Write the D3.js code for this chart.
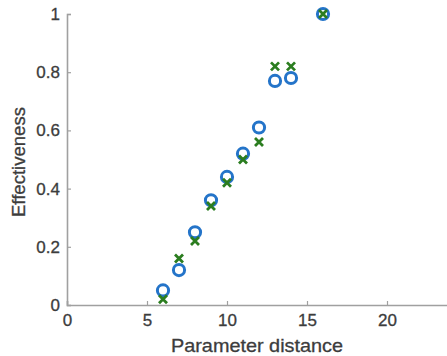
<!DOCTYPE html>
<html><head><meta charset="utf-8">
<script src="https://cdn.jsdelivr.net/npm/d3@7"></script>
<style>html,body{margin:0;padding:0;background:#fff;}svg{display:block;}</style>
</head><body>
<svg id="c" width="447" height="356"></svg>
<script>
const xs = [6, 7, 8, 9, 10, 11, 12, 13, 14, 16];
const circleVals = [0.05, 0.12, 0.25, 0.36, 0.44, 0.52, 0.61, 0.77, 0.78, 1.0];
const crossVals  = [0.02, 0.16, 0.22, 0.34, 0.42, 0.50, 0.56, 0.82, 0.82, 1.0];
const xTicks = [0, 5, 10, 15, 20];
const yTicks = [0, 0.2, 0.4, 0.6, 0.8, 1];

const svg = d3.select("#c");
const x = d3.scaleLinear().domain([0, 24]).range([67, 451]);
const y = d3.scaleLinear().domain([0, 1]).range([305, 14]);
const font = "'Liberation Sans', Arial, sans-serif";
const axisCol = "#a0a0a0", textCol = "#3c3c3c";

const gx = svg.append("g").attr("transform", "translate(0,305)")
  .call(d3.axisBottom(x).tickValues(xTicks).tickSize(-4).tickPadding(9).tickFormat(d3.format("d")));
const gy = svg.append("g").attr("transform", "translate(67,0)")
  .call(d3.axisLeft(y).tickValues(yTicks).tickSize(-4).tickPadding(7).tickFormat(d => d === 0 || d === 1 ? String(d) : d3.format(".1f")(d)));
[gx, gy].forEach(g => {
  g.select(".domain").attr("stroke", axisCol).attr("stroke-width", 1.6);
  g.selectAll(".tick line").attr("stroke", axisCol).attr("stroke-width", 1.2);
  g.selectAll("text").attr("fill", textCol).attr("font-family", font).attr("font-size", 17)
    .attr("stroke", textCol).attr("stroke-width", 0.3);
});

svg.append("text").attr("x", 257).attr("y", 352).attr("text-anchor", "middle")
  .attr("font-family", font).attr("font-size", 18.5).attr("fill", textCol)
  .attr("stroke", textCol).attr("stroke-width", 0.3)
  .attr("textLength", 172).attr("lengthAdjust", "spacingAndGlyphs").text("Parameter distance");
svg.append("text").attr("transform", "translate(25,162) rotate(-90)").attr("text-anchor", "middle")
  .attr("font-family", font).attr("font-size", 18.5).attr("fill", textCol)
  .attr("stroke", textCol).attr("stroke-width", 0.3)
  .attr("textLength", 110).attr("lengthAdjust", "spacingAndGlyphs").text("Effectiveness");

const crossData = xs.map((d, i) => [d, crossVals[i]]);
const circleData = xs.map((d, i) => [d, circleVals[i]]);

svg.append("g").selectAll("circle").data(circleData).join("circle")
  .attr("cx", d => x(d[0])).attr("cy", d => y(d[1])).attr("r", 5.6)
  .attr("fill", "none").attr("stroke", "#2474c9").attr("stroke-width", 3);

const s = 4;
svg.append("g").selectAll("path").data(crossData).join("path")
  .attr("d", d => { const cx = x(d[0]), cy = y(d[1]); return `M${cx-s},${cy-s}L${cx+s},${cy+s}M${cx-s},${cy+s}L${cx+s},${cy-s}`; })
  .attr("stroke", "#2b7d1f").attr("stroke-width", 2.8).attr("fill", "none");
</script>
</body></html>
